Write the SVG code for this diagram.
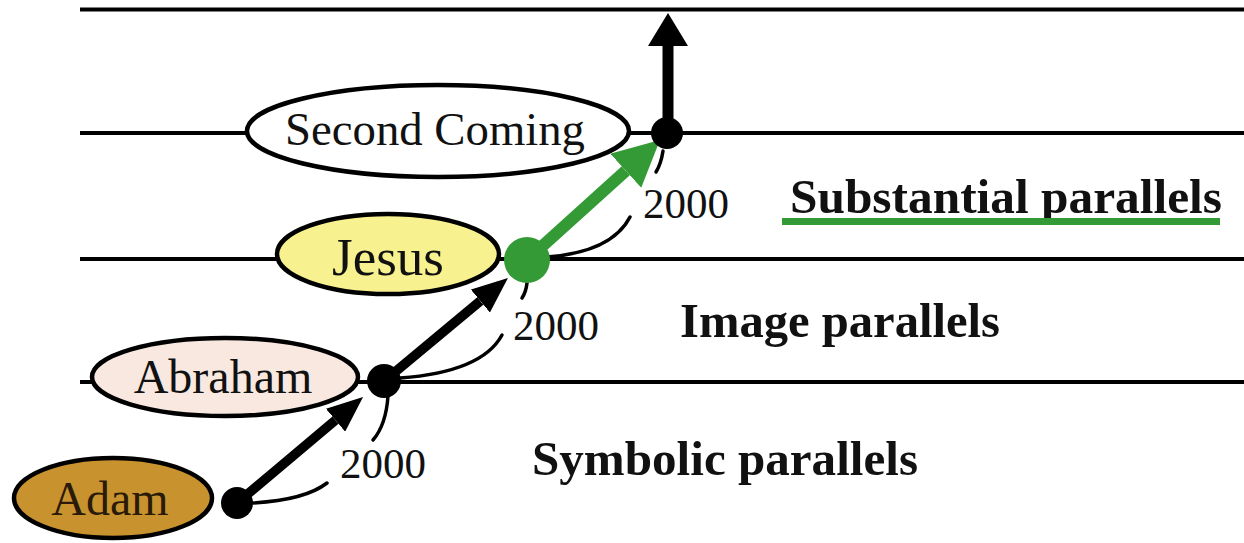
<svg xmlns="http://www.w3.org/2000/svg" width="1244" height="543" viewBox="0 0 1244 543">
  <style>
    .ln{stroke:#000;stroke-width:4;fill:none}
    .el{stroke:#000;stroke-width:4.5}
    .nt{font-family:"Liberation Serif","Times New Roman",serif;fill:#111;text-anchor:middle}
    .yr{font-family:"Liberation Serif","Times New Roman",serif;font-size:43px;fill:#111}
    .lb{font-family:"Liberation Serif","Times New Roman",serif;font-size:48px;font-weight:bold;fill:#111}
    .br{stroke:#000;stroke-width:3.5;fill:none;stroke-linecap:round}
    .ab{stroke:#000;stroke-width:9.5;fill:none}
    .ag{stroke:#339a35;stroke-width:12;fill:none}
  </style>
  <defs>
    <marker id="hb" viewBox="0 -15 36 30" markerWidth="36" markerHeight="30" refX="0" refY="0" orient="auto" markerUnits="userSpaceOnUse">
      <path d="M0,-15 L36,0 L0,15 z" fill="#000"/>
    </marker>
    <marker id="hv" viewBox="0 -20 33 40" markerWidth="33" markerHeight="40" refX="0" refY="0" orient="auto" markerUnits="userSpaceOnUse">
      <path d="M0,-20 L33,0 L0,20 z" fill="#000"/>
    </marker>
    <marker id="hg" viewBox="0 -23 46 46" markerWidth="46" markerHeight="46" refX="0" refY="0" orient="auto" markerUnits="userSpaceOnUse">
      <path d="M0,-23 L46,0 L0,23 z" fill="#339a35"/>
    </marker>
  </defs>

  <g id="levels">
    <line class="ln" x1="80" y1="9.5" x2="1244" y2="9.5"/>
    <line class="ln" x1="80" y1="133" x2="1244" y2="133"/>
    <line class="ln" x1="80" y1="259" x2="1244" y2="259"/>
    <line class="ln" x1="80" y1="382" x2="1244" y2="382"/>
  </g>

  <g id="second-coming">
    <ellipse class="el" cx="438" cy="131" rx="191" ry="46" fill="#fff"/>
    <text class="nt" x="435" y="145" font-size="46" textLength="300" lengthAdjust="spacingAndGlyphs">Second Coming</text>
  </g>
  <g id="jesus">
    <ellipse class="el" cx="388" cy="254" rx="111" ry="40" fill="#f8f18f"/>
    <text class="nt" x="388" y="275" font-size="53">Jesus</text>
  </g>
  <g id="abraham">
    <ellipse class="el" cx="225" cy="377" rx="133" ry="39" fill="#f8e8e0"/>
    <text class="nt" x="223" y="393" font-size="48">Abraham</text>
  </g>
  <g id="adam">
    <ellipse class="el" cx="113" cy="498" rx="99" ry="40" fill="#c8922f"/>
    <text class="nt" x="110" y="515" font-size="48" style="fill:#2a1a08">Adam</text>
  </g>

  <g id="connectors">
    <path class="br" d="M253,503 Q305,500 327,483"/>
    <path class="br" d="M388,396 Q386,425 373,440"/>
    <path class="br" d="M400,378 Q482,372 502,335"/>
    <path class="br" d="M527,283 Q526,292 522,298"/>
    <path class="br" d="M547,257 Q612,252 630,217"/>
    <path class="br" d="M663,151 Q661,164 656,172"/>
    <line class="ab" x1="237" y1="503" x2="335.5" y2="420.2" marker-end="url(#hb)"/>
    <line class="ab" x1="383" y1="382" x2="480.3" y2="301" marker-end="url(#hb)"/>
    <line class="ab" x1="668" y1="133" x2="668" y2="46" style="stroke-width:11" marker-end="url(#hv)"/>
    <line class="ag" x1="527" y1="260" x2="625.8" y2="170.8" marker-end="url(#hg)"/>
  </g>

  <g id="points">
    <circle cx="237" cy="503" r="16" fill="#000"/>
    <circle cx="384" cy="381" r="17" fill="#000"/>
    <circle cx="527" cy="260" r="23" fill="#339a35"/>
    <circle cx="667" cy="133" r="16" fill="#000"/>
  </g>

  <g id="years">
    <text class="yr" x="340" y="478">2000</text>
    <text class="yr" x="513" y="340">2000</text>
    <text class="yr" x="643" y="218">2000</text>
  </g>

  <g id="labels">
    <text class="lb" x="790" y="213" textLength="432" lengthAdjust="spacingAndGlyphs">Substantial parallels</text>
    <rect x="782" y="218" width="438" height="7" fill="#339a35"/>
    <text class="lb" x="680" y="337" textLength="320" lengthAdjust="spacingAndGlyphs">Image parallels</text>
    <text class="lb" x="532" y="475" textLength="386" lengthAdjust="spacingAndGlyphs">Symbolic parallels</text>
  </g>
</svg>
